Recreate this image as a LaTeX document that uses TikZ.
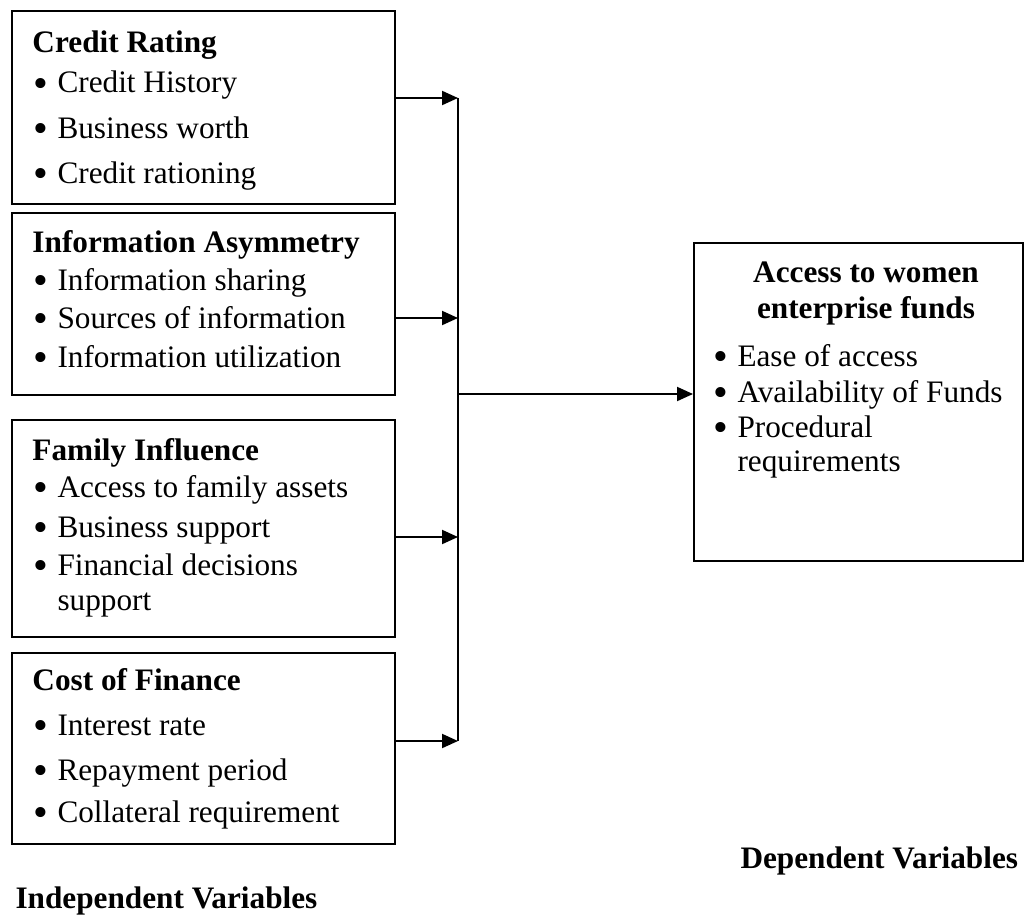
\documentclass[tikz,border=0pt]{standalone}
\usepackage{fontspec}
\usepackage{graphicx}
\setmainfont{Liberation Serif}
\usetikzlibrary{arrows.meta}
\newcommand{\bul}[1]{\makebox[9.6pt][l]{\raisebox{-0.14em}{\scalebox{1.35}{\textbullet}}}#1}

\begin{document}
\begin{tikzpicture}[x=0.4pt,y=-0.4pt,
  >={Triangle[length=6.4pt,width=5.6pt]},
  box/.style={draw,line width=0.8pt,inner sep=0pt,anchor=north west},
  txt/.style={anchor=base west,inner sep=0pt,font=\fontsize{12.5}{15}\selectfont},
  link/.style={line width=0.8pt}]
  \useasboundingbox (0,0) rectangle (1030,919);
  % independent variable boxes
  \node[box,minimum width=153.2pt,minimum height=77.2pt] (credit) at (11,10) {};
  \node[box,minimum width=153.2pt,minimum height=72.8pt] (info) at (11,212) {};
  \node[box,minimum width=153.2pt,minimum height=86.8pt] (family) at (11,419) {};
  \node[box,minimum width=153.2pt,minimum height=76.4pt] (cost) at (11,652) {};
  % dependent variable box
  \node[box,minimum width=131.6pt,minimum height=127.2pt] (access) at (693,242) {};
  % credit rating
  \node[txt] (cr0) at (32,53) {\textbf{Credit Rating}};
  \node[txt] (cr1) at (33,93) {\bul{Credit History}};
  \node[txt] (cr2) at (33,138) {\bul{Business worth}};
  \node[txt] (cr3) at (33,183) {\bul{Credit rationing}};
  % information asymmetry
  \node[txt] (ia0) at (32,252) {\textbf{Information Asymmetry}};
  \node[txt] (ia1) at (33,290) {\bul{Information sharing}};
  \node[txt] (ia2) at (33,328) {\bul{Sources of information}};
  \node[txt] (ia3) at (33,367) {\bul{Information utilization}};
  % family influence
  \node[txt] (fi0) at (32,460) {\textbf{Family Influence}};
  \node[txt] (fi1) at (33,497) {\bul{Access to family assets}};
  \node[txt] (fi2) at (33,537) {\bul{Business support}};
  \node[txt] (fi3) at (33,575) {\bul{Financial decisions}};
  \node[txt] (fi4) at (57,610) {support};
  % cost of finance
  \node[txt] (cf0) at (32,690) {\textbf{Cost of Finance}};
  \node[txt] (cf1) at (33,735) {\bul{Interest rate}};
  \node[txt] (cf2) at (33,780) {\bul{Repayment period}};
  \node[txt] (cf3) at (33,822) {\bul{Collateral requirement}};
  % access to funds
  \node[txt,anchor=base] (af0) at (866,282) {\textbf{Access to women}};
  \node[txt,anchor=base] (af1) at (866,318) {\textbf{enterprise funds}};
  \node[txt] (af2) at (713,366) {\bul{Ease of access}};
  \node[txt] (af3) at (713,402) {\bul{Availability of Funds}};
  \node[txt] (af4) at (713,437) {\bul{Procedural}};
  \node[txt] (af5) at (737,471) {requirements};
  % captions
  \node[txt] (indep) at (15,908) {\textbf{Independent Variables}};
  \node[txt] (dep) at (740,868) {\textbf{Dependent Variables}};
  % connectors
  \coordinate (j1) at (458,98);
  \coordinate (j2) at (458,318);
  \coordinate (j3) at (458,537);
  \coordinate (j4) at (458,741);
  \coordinate (jm) at (458,394);
  \draw[link] (j1) -- (j4);
  \draw[link,->] (credit.east |- j1) -- (j1);
  \draw[link,->] (info.east |- j2) -- (j2);
  \draw[link,->] (family.east |- j3) -- (j3);
  \draw[link,->] (cost.east |- j4) -- (j4);
  \draw[link,->] (jm) -- (access.west |- jm);
\end{tikzpicture}
\end{document}
